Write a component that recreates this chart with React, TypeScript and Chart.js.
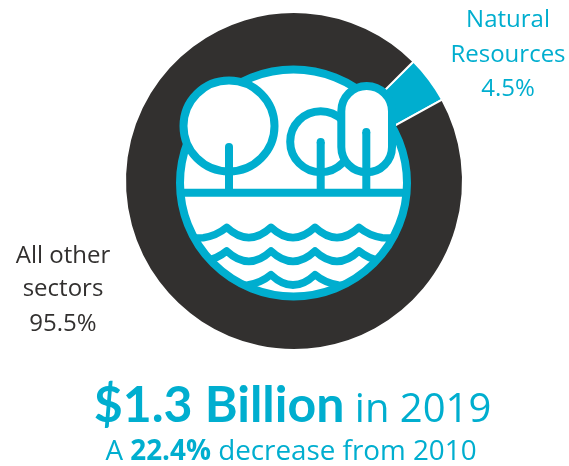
import React, { useEffect, useRef } from "react";
import { Chart, registerables } from "chart.js";

Chart.register(...registerables);

const categories = ["Natural Resources", "All other sectors"];
const shares = [4.5, 95.5];
const sliceColors = ["#00AECF", "#32302F"];
const naturalLabel = ["Natural", "Resources", "4.5%"];
const otherLabel = ["All other", "sectors", "95.5%"];
const headlineBold = "$1.3 Billion";
const headlineRest = " in 2019";
const subParts = ["A ", "22.4%", " decrease from 2010"];

const TEAL = "#00AECF";
const DARK = "#32302F";
const FONT = '"Open Sans"';

function centered(ctx: CanvasRenderingContext2D, parts: { t: string; f: string; c: string }[], cx: number, y: number) {
  let w = 0;
  parts.forEach((p) => {
    ctx.font = p.f;
    w += ctx.measureText(p.t).width;
  });
  let x = cx - w / 2;
  ctx.textAlign = "left";
  parts.forEach((p) => {
    ctx.font = p.f;
    ctx.fillStyle = p.c;
    ctx.fillText(p.t, x, y);
    x += ctx.measureText(p.t).width;
  });
}

function drawIcon(ctx: CanvasRenderingContext2D) {
  const cx = 293.5, cy = 183, r = 113.5;
  ctx.save();
  ctx.lineWidth = 8;
  ctx.strokeStyle = TEAL;
  ctx.fillStyle = "#fff";
  ctx.lineCap = "round";
  ctx.lineJoin = "round";

  ctx.beginPath();
  ctx.arc(cx, cy, r, 0, Math.PI * 2);
  ctx.fill();

  ctx.save();
  ctx.beginPath();
  ctx.arc(cx, cy, r, 0, Math.PI * 2);
  ctx.clip();
  ctx.lineCap = "butt";
  ctx.beginPath();
  ctx.moveTo(170, 192.7);
  ctx.lineTo(420, 192.7);
  ctx.stroke();
  ctx.lineCap = "round";
  ctx.lineWidth = 7.5;
  const X = (z: number) => 160 + z / 3;
  const Y = (z: number) => 50 + z / 3;
  const wave = (cusps: number[], yTop: number) => {
    const yLow = yTop + 31;
    const ctrl = yTop + 62;
    const first = cusps[0], last = cusps[cusps.length - 1];
    ctx.beginPath();
    ctx.moveTo(X(first - 200), Y(yLow + 3));
    ctx.lineTo(X(first - 70), Y(yLow));
    ctx.quadraticCurveTo(X(first - 30), Y(yLow - 6), X(first), Y(yTop));
    for (let i = 1; i < cusps.length; i++) {
      const a = cusps[i - 1], b = cusps[i];
      ctx.quadraticCurveTo((X(a) + X(b)) / 2, Y(ctrl), X(b), Y(yTop));
    }
    ctx.quadraticCurveTo(X(last + 30), Y(yLow - 6), X(last + 70), Y(yLow));
    ctx.lineTo(X(last + 200), Y(yLow + 3));
    ctx.stroke();
  };
  wave([200, 333, 465, 597], 532);
  wave([200, 333, 465, 597], 603);
  wave([333, 465], 674);
  ctx.restore();

  ctx.lineWidth = 8;
  ctx.beginPath();
  ctx.arc(cx, cy, r, 0, Math.PI * 2);
  ctx.stroke();

  ctx.lineCap = "butt";
  const tree = (x: number, yCenter: number, rad: number) => {
    ctx.beginPath();
    ctx.arc(x, yCenter, rad, 0, Math.PI * 2);
    ctx.fillStyle = "#fff";
    ctx.fill();
    ctx.stroke();
  };
  const trunk = (x: number, top: number) => {
    ctx.lineCap = "butt";
    ctx.beginPath();
    ctx.moveTo(x, 192.7);
    ctx.lineTo(x, top + 4);
    ctx.stroke();
    ctx.beginPath();
    ctx.arc(x, top + 4, 4, 0, Math.PI * 2);
    ctx.fillStyle = TEAL;
    ctx.fill();
  };
  tree(229, 126, 45.5);
  trunk(229, 143);
  tree(320.7, 141.7, 30.5);
  trunk(320.7, 138);

  ctx.beginPath();
  ctx.roundRect(341.3, 86, 50.7, 86.3, 25.3);
  ctx.fillStyle = "#fff";
  ctx.fill();
  ctx.stroke();
  trunk(366.3, 128);
  ctx.restore();
}

const overlay = {
  id: "overlay",
  afterDraw(chart: Chart) {
    const ctx = chart.ctx;
    drawIcon(ctx);
    ctx.save();
    ctx.textBaseline = "alphabetic";
    const small = `400 24px ${FONT}`;
    const ys1 = [27, 62, 96];
    naturalLabel.forEach((t, i) => centered(ctx, [{ t, f: small, c: TEAL }], 508, ys1[i]));
    const ys2 = [263, 296, 331];
    otherLabel.forEach((t, i) => centered(ctx, [{ t, f: small, c: DARK }], 63, ys2[i]));
    centered(
      ctx,
      [
        { t: headlineBold, f: `700 50px Lato`, c: TEAL },
        { t: headlineRest, f: `400 40px ${FONT}`, c: TEAL },
      ],
      292.5,
      422
    );
    centered(
      ctx,
      [
        { t: subParts[0], f: `400 27.8px ${FONT}`, c: TEAL },
        { t: subParts[1], f: `700 27.8px ${FONT}`, c: TEAL },
        { t: subParts[2], f: `400 27.8px ${FONT}`, c: TEAL },
      ],
      291,
      460
    );
    ctx.restore();
  },
};

export default function App() {
  const ref = useRef<HTMLCanvasElement>(null);
  useEffect(() => {
    document.body.style.margin = "0";
    const chart = new Chart(ref.current!, {
      type: "doughnut",
      data: {
        labels: categories,
        datasets: [
          {
            data: shares,
            backgroundColor: sliceColors,
            borderColor: "#fff",
            borderWidth: 2,
          },
        ],
      },
      options: {
        responsive: false,
        animation: false,
        cutout: "66%",
        rotation: 45,
        layout: { padding: { left: 124, top: 11, right: 105, bottom: 115 } },
        plugins: { legend: { display: false }, tooltip: { enabled: false } },
      },
      plugins: [overlay],
    });
    return () => chart.destroy();
  }, []);
  return (
    <div style={{ position: "absolute", left: 0, top: 0, width: 569, height: 466 }}>
      <canvas ref={ref} width={569} height={466} style={{ display: "block" }} />
    </div>
  );
}
